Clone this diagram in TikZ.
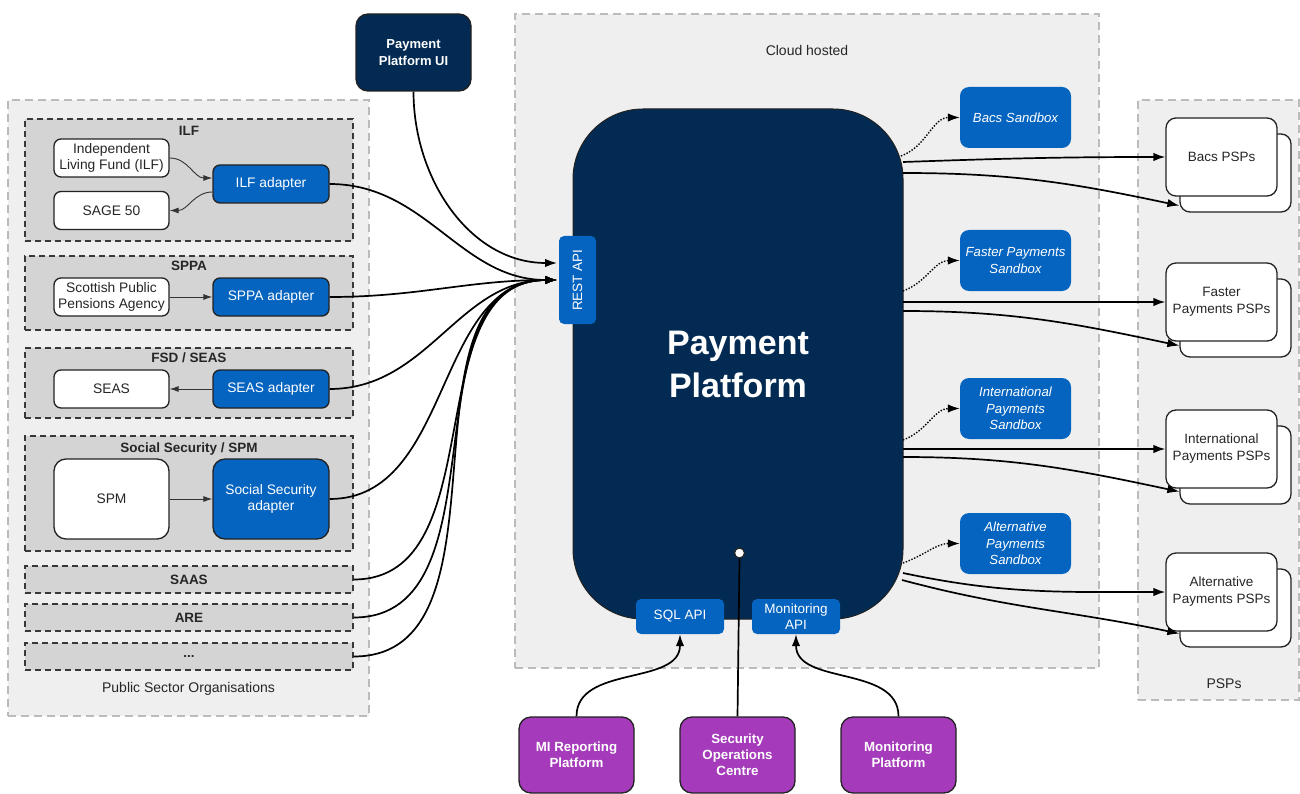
\documentclass[tikz,border=0pt]{standalone}
\usepackage{fontspec}
\setmainfont{Liberation Sans}
\usetikzlibrary{arrows.meta,calc,positioning}
\definecolor{navy}{HTML}{032A52}
\definecolor{pblue}{HTML}{0564BF}
\definecolor{ppurple}{HTML}{A53BBA}
\definecolor{panelgray}{HTML}{EFEFEF}
\definecolor{groupgray}{HTML}{D4D4D4}
\definecolor{paneledge}{HTML}{BBBBBB}
\definecolor{boxedge}{HTML}{222222}
\tikzset{
  panel/.style={draw=paneledge, fill=panelgray, line width=1.3pt, dash pattern=on 8pt off 5pt, inner sep=0pt},
  grp/.style={draw=boxedge!90, fill=groupgray, line width=1.5pt, dash pattern=on 6pt off 4pt, minimum width=328pt, inner sep=0pt},
  grptitle/.style={font=\fontsize{13.5}{15}\selectfont\bfseries, text=black!85},
  wbox/.style={draw=boxedge, fill=white, rounded corners=7pt, line width=1.3pt, minimum width=115pt, minimum height=38pt, align=center, inner sep=0pt, font=\fontsize{13.8}{16.5}\selectfont, text=black!85},
  abox/.style={draw=boxedge, fill=pblue, rounded corners=7pt, line width=1.3pt, minimum width=116pt, minimum height=38pt, align=center, inner sep=0pt, font=\fontsize{13.8}{16.5}\selectfont, text=white},
  sbox/.style={fill=pblue, rounded corners=9pt, minimum width=111pt, minimum height=61pt, align=center, inner sep=0pt, font=\fontsize{13.2}{16.5}\selectfont\itshape, text=white},
  apibox/.style={fill=pblue, rounded corners=5pt, align=center, inner sep=0pt, font=\fontsize{13.5}{16}\selectfont, text=white},
  pspbox/.style={draw=boxedge, fill=white, rounded corners=10pt, line width=1.3pt, minimum width=111pt, minimum height=78pt, align=center, inner sep=0pt, font=\fontsize{13.5}{17}\selectfont, text=black!85},
  purple/.style={draw=boxedge, fill=ppurple, rounded corners=12pt, line width=1.3pt, minimum width=115pt, minimum height=76pt, align=center, inner sep=0pt, font=\fontsize{13.3}{16}\selectfont\bfseries, text=white},
  conn/.style={line width=1.7pt, -{Latex[length=12pt,width=8.5pt]}},
  small/.style={line width=0.9pt, black!80, -{Latex[length=9pt,width=6pt]}},
  dotconn/.style={line width=1.4pt, dash pattern=on 1.4pt off 1.6pt, -{Latex[length=12pt,width=8.5pt]}},
  lbl/.style={font=\fontsize{14}{16}\selectfont, text=black!85}
}
\begin{document}
\begin{tikzpicture}[x=1pt,y=1pt]
\useasboundingbox (0,0) rectangle (1300,-794);
\fill[white] (0,0) rectangle (1300,-794);

% panels
\node (pso) [panel, minimum width=361pt, minimum height=616pt] at (188.5,-408) {};
\node (psolbl) [lbl] at (188.5,-689) {Public Sector Organisations};
\node (cloud) [panel, minimum width=584pt, minimum height=654pt] at (807,-341) {};
\node (cloudlbl) [lbl] at (807,-50) {Cloud hosted};
\node (psps) [panel, minimum width=161pt, minimum height=600pt] at (1218.5,-400) {};
\node (pspslbl) [lbl] at (1224,-684) {PSPs};

% groups
\node (gilf) [grp, minimum height=122pt] at (189,-180) {};
\node (gilft) [grptitle] at (189,-131) {ILF};
\node (gsppa) [grp, minimum height=74pt] at (189,-293) {};
\node (gsppat) [grptitle] at (189,-266) {SPPA};
\node (gfsd) [grp, minimum height=70pt] at (189,-383) {};
\node (gfsdt) [grptitle] at (189,-358) {FSD / SEAS};
\node (gss) [grp, minimum height=115pt] at (189,-493.5) {};
\node (gsst) [grptitle] at (189,-449) {Social Security / SPM};
\node (gsaas) [grp, minimum height=27pt, grptitle] at (189,-579.5) {SAAS};
\node (gare) [grp, minimum height=27pt, grptitle] at (189,-617.5) {ARE};
\node (gdots) [grp, minimum height=27pt, grptitle] at (189,-656.5) {...};

% inner boxes
\node (ilf) [wbox] at (111.5,-158) {Independent\\Living Fund (ILF)};
\node (sage) [wbox] at (111.5,-210.5) {SAGE 50};
\node (ilfa) [abox] at (271,-184) {ILF adapter};
\node (sppa) [wbox] at (111.5,-297) {Scottish Public\\Pensions Agency};
\node (sppaa) [abox] at (271,-297) {SPPA adapter};
\node (seas) [wbox] at (111.5,-389) {SEAS};
\node (seasa) [abox] at (271,-389) {SEAS adapter};
\node (spm) [wbox, minimum height=80pt, rounded corners=12pt] at (111.5,-499) {SPM};
\node (ssa) [abox, minimum height=80pt, rounded corners=12pt] at (271,-499) {Social Security\\adapter};

\draw[small] (ilf.east) to[out=0,in=180] ($(ilfa.west)+(0,6)$);
\draw[small] ($(ilfa.west)+(0,-8)$) to[out=180,in=0] (sage.east);
\draw[small] (sppa.east) -- (sppaa.west);
\draw[small] (seasa.west) -- (seas.east);
\draw[small] (spm.east) -- (ssa.west);

% UI
\node (ui) [draw=boxedge, fill=navy, rounded corners=12pt, line width=1.3pt, minimum width=115pt, minimum height=77pt, align=center, font=\fontsize{13}{16.5}\selectfont\bfseries, text=white] at (413.5,-52.5) {Payment\\Platform UI};

% Payment platform
\node (pp) [draw=boxedge, fill=navy, rounded corners=70pt, line width=1pt, minimum width=330pt, minimum height=510pt, align=center, font=\fontsize{34}{43}\selectfont\bfseries, text=white] at (738,-364) {Payment\\Platform};
\node (rest) [apibox, rotate=90, minimum width=88pt, minimum height=37pt] at (577.5,-280) {REST API};
\node (sql) [apibox, minimum width=88pt, minimum height=35pt] at (680,-616.5) {SQL API};
\node (mon) [apibox, minimum width=88pt, minimum height=35pt] at (796,-616.5) {Monitoring\\API};
\node (dot) [circle, draw=boxedge, fill=white, line width=1.2pt, minimum size=10pt, inner sep=0pt] at (739.5,-553) {};

\coordinate (restA) at (557,-263);
\coordinate (restB) at (557,-280);

% left connectors
\draw[conn] (ui.south) to[out=-90,in=180] (restA);
\draw[conn] (ilfa.east) to[out=0,in=180] (restB);
\draw[conn] (sppaa.east) to[out=0,in=180] (restB);
\draw[conn] (seasa.east) to[out=0,in=180] (restB);
\draw[conn] (ssa.east) to[out=0,in=180] (restB);
\draw[conn] (gsaas.east) to[out=0,in=180] (restB);
\draw[conn] (gare.east) to[out=0,in=180] (restB);
\draw[conn] (gdots.east) to[out=0,in=180] (restB);

% sandboxes
\node (bacsS) [sbox] at (1015.5,-117.5) {Bacs Sandbox};
\node (fastS) [sbox] at (1015.5,-260.5) {Faster Payments\\Sandbox};
\node (intS) [sbox] at (1015.5,-408.5) {International\\Payments\\Sandbox};
\node (altS) [sbox] at (1015.5,-543.5) {Alternative\\Payments\\Sandbox};

% PSP stacks
\node (bacsB) [pspbox] at (1235.5,-173) {};
\node (bacsP) [pspbox] at (1221.5,-157) {Bacs PSPs};
\node (fastB) [pspbox] at (1235.5,-318) {};
\node (fastP) [pspbox] at (1221.5,-302) {Faster\\Payments PSPs};
\node (intB) [pspbox] at (1235.5,-465) {};
\node (intP) [pspbox] at (1221.5,-449) {International\\Payments PSPs};
\node (altB) [pspbox] at (1235.5,-608) {};
\node (altP) [pspbox] at (1221.5,-592) {Alternative\\Payments PSPs};

% platform start points
\coordinate (d1) at (901,-156);
\coordinate (b1) at (903,-162);
\coordinate (b2) at (903,-173);
\coordinate (d2) at (903,-291);
\coordinate (f1) at (903,-302);
\coordinate (f2) at (903,-311);
\coordinate (d3) at (903,-440);
\coordinate (i1) at (903,-449);
\coordinate (i2) at (903,-457);
\coordinate (d4) at (903,-563);
\coordinate (a1) at (903,-573);
\coordinate (a2) at (902,-580);

\draw[dotconn] (d1) to[out=20,in=180] (bacsS.west);
\draw[dotconn] (d2) to[out=20,in=180] (fastS.west);
\draw[dotconn] (d3) to[out=20,in=180] (intS.west);
\draw[dotconn] (d4) to[out=20,in=180] (altS.west);

\draw[conn] (b1) to[out=2,in=180] (bacsP.west);
\draw[conn] (b2) to[out=0,in=168] ($(bacsB.south west)+(0,7)$);
\draw[conn] (f1) to[out=0,in=180] (fastP.west);
\draw[conn] (f2) to[out=0,in=168] ($(fastB.south west)+(0,12)$);
\draw[conn] (i1) to[out=0,in=180] (intP.west);
\draw[conn] (i2) to[out=0,in=168] ($(intB.south west)+(0,13)$);
\draw[conn] (a1) to[out=-12,in=180] (altP.west);
\draw[conn] (a2) to[out=-15,in=168] ($(altB.south west)+(0,14)$);

% bottom
\node (mi) [purple] at (576.5,-755) {MI Reporting\\Platform};
\node (soc) [purple] at (737.5,-755) {Security\\Operations\\Centre};
\node (monp) [purple] at (898.5,-755) {Monitoring\\Platform};

\draw[conn] (mi.north) to[out=90,in=-90] (sql.south);
\draw[conn] (monp.north) to[out=90,in=-90] (mon.south);
\draw[line width=1.7pt] (soc.north) -- (dot.south);
\end{tikzpicture}
\end{document}
